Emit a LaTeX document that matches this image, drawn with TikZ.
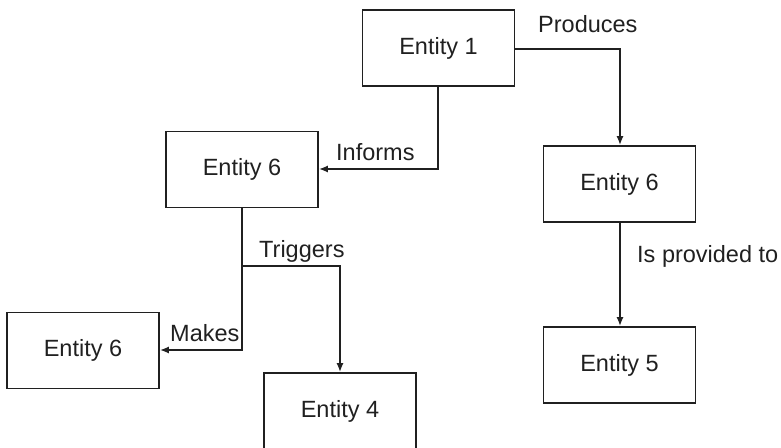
\documentclass[tikz,border=0pt]{standalone}
\usepackage{fontspec}
\setmainfont{Liberation Sans}
\usetikzlibrary{arrows.meta}
\definecolor{ink}{HTML}{202020}
\tikzset{
  entity/.style={draw=ink, line width=1.6pt, minimum width=152pt, minimum height=76pt, inner sep=0pt, text=ink, font=\fontsize{23.5}{28}\selectfont},
  lbl/.style={anchor=base west, inner sep=0pt, text=ink, font=\fontsize{23.5}{28}\selectfont},
  conn/.style={draw=ink, line width=2.5pt},
  arr/.style={conn, -{Latex[length=9pt,width=7pt]}}
}
\begin{document}
\begin{tikzpicture}[x=1pt,y=-1pt]
\useasboundingbox (0,0) rectangle (781,447);
\node[entity] (e1) at (438.5,48) {Entity 1};
\node[entity] (e6a) at (242,169.5) {Entity 6};
\node[entity] (e6b) at (619.5,184) {Entity 6};
\node[entity] (e5) at (619.5,365) {Entity 5};
\node[entity] (e6c) at (83,350.5) {Entity 6};
\node[entity] (e4) at (340,411) {Entity 4};
\coordinate (pc) at (620,49);
\coordinate (ic) at (438,169);
\coordinate (mc) at (242,350);
\coordinate (br) at (242,266);
\coordinate (tc) at (340,266);
\draw[arr] (pc -| e1.east) -- (pc) -- (pc |- e6b.north);
\draw[arr] (ic |- e1.south) -- (ic) -- (ic -| e6a.east);
\draw[arr] (mc |- e6a.south) -- (mc) -- (mc -| e6c.east);
\draw[arr] (br) -- (tc) -- (tc |- e4.north);
\draw[arr] (e6b.south -| pc) -- (e5.north -| pc);
\node[lbl] (lp) at (538,32) {Produces};
\node[lbl] (li) at (336,160) {Informs};
\node[lbl] (lt) at (259,257) {Triggers};
\node[lbl] (lm) at (170,341) {Makes};
\node[lbl] (lis) at (637,262) {Is provided to};
\end{tikzpicture}
\end{document}
